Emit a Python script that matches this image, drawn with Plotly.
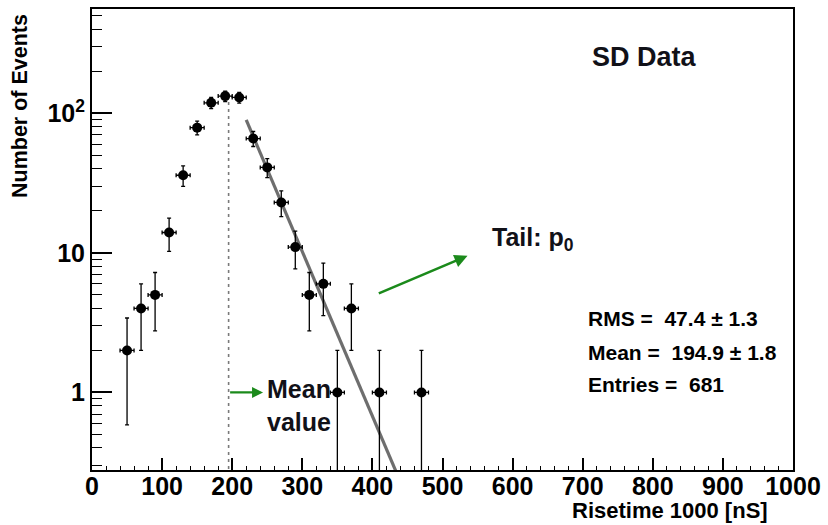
import numpy as np
import plotly.graph_objects as go

# Histogram of SD risetime: bin centres (nS) and counts
bin_centres = [50, 70, 90, 110, 130, 150, 170, 190, 210, 230, 250, 270, 290, 310, 330, 350, 370, 410, 470]
counts = [2, 4, 5, 14, 36, 79, 119, 133, 130, 66, 41, 23, 11, 5, 6, 1, 4, 1, 1]
bin_half_width = 10

# Exponential tail fit: N = exp(p0 + p1 * t)
fit_p0 = 10.469
fit_p1 = -0.02715
fit_range = [220, 440]

# Summary statistics
stat_mean = 194.9
stat_mean_err = 1.8
stat_rms = 47.4
stat_rms_err = 1.3
stat_entries = 681

counts_arr = np.array(counts, dtype=float)
err = np.sqrt(counts_arr)
err_minus = np.minimum(err, counts_arr - 1e-4)

FONT = "Liberation Sans, Arial, Helvetica, sans-serif"
GREEN = "#1b8a1b"
INK = "#111118"

fig = go.Figure()

# mean marker line
fig.add_trace(go.Scatter(
    x=[stat_mean, stat_mean], y=[0.2, 122],
    mode="lines", line=dict(color="#7a7a7a", width=1.6, dash="3px,4px"),
    hoverinfo="skip", showlegend=False))

# fitted tail
t_fit = np.linspace(fit_range[0], fit_range[1], 50)
fig.add_trace(go.Scatter(
    x=t_fit, y=np.exp(fit_p0 + fit_p1 * t_fit),
    mode="lines", line=dict(color="#6e6e6e", width=3.2),
    showlegend=False))

# data points with errors
fig.add_trace(go.Scatter(
    x=bin_centres, y=counts, mode="markers",
    marker=dict(color="black", size=10),
    error_x=dict(type="constant", value=bin_half_width, color="black", thickness=1.3, width=2),
    error_y=dict(type="data", array=err, arrayminus=err_minus, color="black", thickness=1.3, width=2),
    showlegend=False))

axis_font = dict(family=FONT, size=25, color="black", weight="bold")

fig.update_layout(
    width=828, height=525,
    margin=dict(l=92, r=31.5, t=7, b=55),
    paper_bgcolor="white", plot_bgcolor="white",
    xaxis=dict(
        range=[0, 1000], showline=True, linecolor="black", linewidth=2, mirror=True,
        showgrid=False, zeroline=False,
        tickmode="linear", tick0=0, dtick=100,
        ticks="inside", ticklen=12, tickwidth=1.5, tickcolor="black",
        ticklabelstandoff=-7,
        minor=dict(ticks="inside", ticklen=4, tickwidth=1, tickcolor="black", dtick=20, tick0=0, showgrid=False),
        tickfont=axis_font),
    yaxis=dict(
        type="log", range=[-0.556, 2.748], showline=True, linecolor="black", linewidth=2, mirror=True,
        showgrid=False, zeroline=False,
        tickmode="array", tickvals=[1, 10, 100], ticktext=["1", "10", "10<sup>2</sup>"],
        ticks="inside", ticklen=20, tickwidth=1.5, tickcolor="black",
        minor=dict(ticks="inside", ticklen=10, tickwidth=1, tickcolor="black",
                   tickmode="array",
                   tickvals=[v * d for d in (0.1, 1, 10, 100) for v in range(2, 10)],
                   showgrid=False),
        tickfont=axis_font),
)

annotations = []

# axis titles
annotations.append(dict(text="Risetime 1000 [nS]", xref="paper", yref="paper", x=1, y=0,
                        xanchor="right", yanchor="middle", xshift=-23, yshift=-40, showarrow=False,
                        font=dict(family=FONT, size=22, color="black", weight="bold")))
annotations.append(dict(text="Number of Events", xref="paper", yref="paper", x=0, y=1,
                        xanchor="center", yanchor="top", xshift=-72, yshift=-3, textangle=-90,
                        showarrow=False,
                        font=dict(family=FONT, size=21.5, color="black", weight="bold")))

# dataset label
annotations.append(dict(text="SD Data", xref="x", yref="y", x=711, y=2.407,
                        xanchor="left", yanchor="middle", showarrow=False,
                        font=dict(family=FONT, size=27, color=INK, weight="bold")))

# statistics
stats_lines = [
    (f"RMS =  {stat_rms} \u00b1 {stat_rms_err}", 0.529),
    (f"Mean =  {stat_mean} \u00b1 {stat_mean_err}", 0.286),
    (f"Entries =  {stat_entries}", 0.057),
]
for txt, ly in stats_lines:
    annotations.append(dict(text=txt, xref="x", yref="y", x=704, y=ly,
                            xanchor="left", yanchor="middle", showarrow=False,
                            font=dict(family=FONT, size=21, color="black", weight="bold")))

# mean value arrow and label
annotations.append(dict(x=244, y=0, ax=stat_mean, ay=0, xref="x", yref="y", axref="x", ayref="y",
                        text="", showarrow=True, arrowhead=2, arrowsize=1, arrowwidth=2.2,
                        arrowcolor=GREEN))
annotations.append(dict(text="Mean<br>value", xref="x", yref="y", x=247, y=-0.095,
                        xanchor="left", yanchor="middle", align="left", showarrow=False,
                        font=dict(family=FONT, size=25, color=INK, weight="bold")))

# tail arrow and label
annotations.append(dict(x=535.7, y=0.979, ax=407, ay=0.705, xref="x", yref="y", axref="x", ayref="y",
                        text="", showarrow=True, arrowhead=2, arrowsize=1, arrowwidth=2.6,
                        arrowcolor=GREEN))
annotations.append(dict(text="Tail: p<sub>0</sub>", xref="x", yref="y", x=567.5, y=1.1,
                        xanchor="left", yanchor="middle", showarrow=False,
                        font=dict(family=FONT, size=25, color=INK, weight="bold")))

fig.update_layout(annotations=annotations)

fig.write_html("out.html")
